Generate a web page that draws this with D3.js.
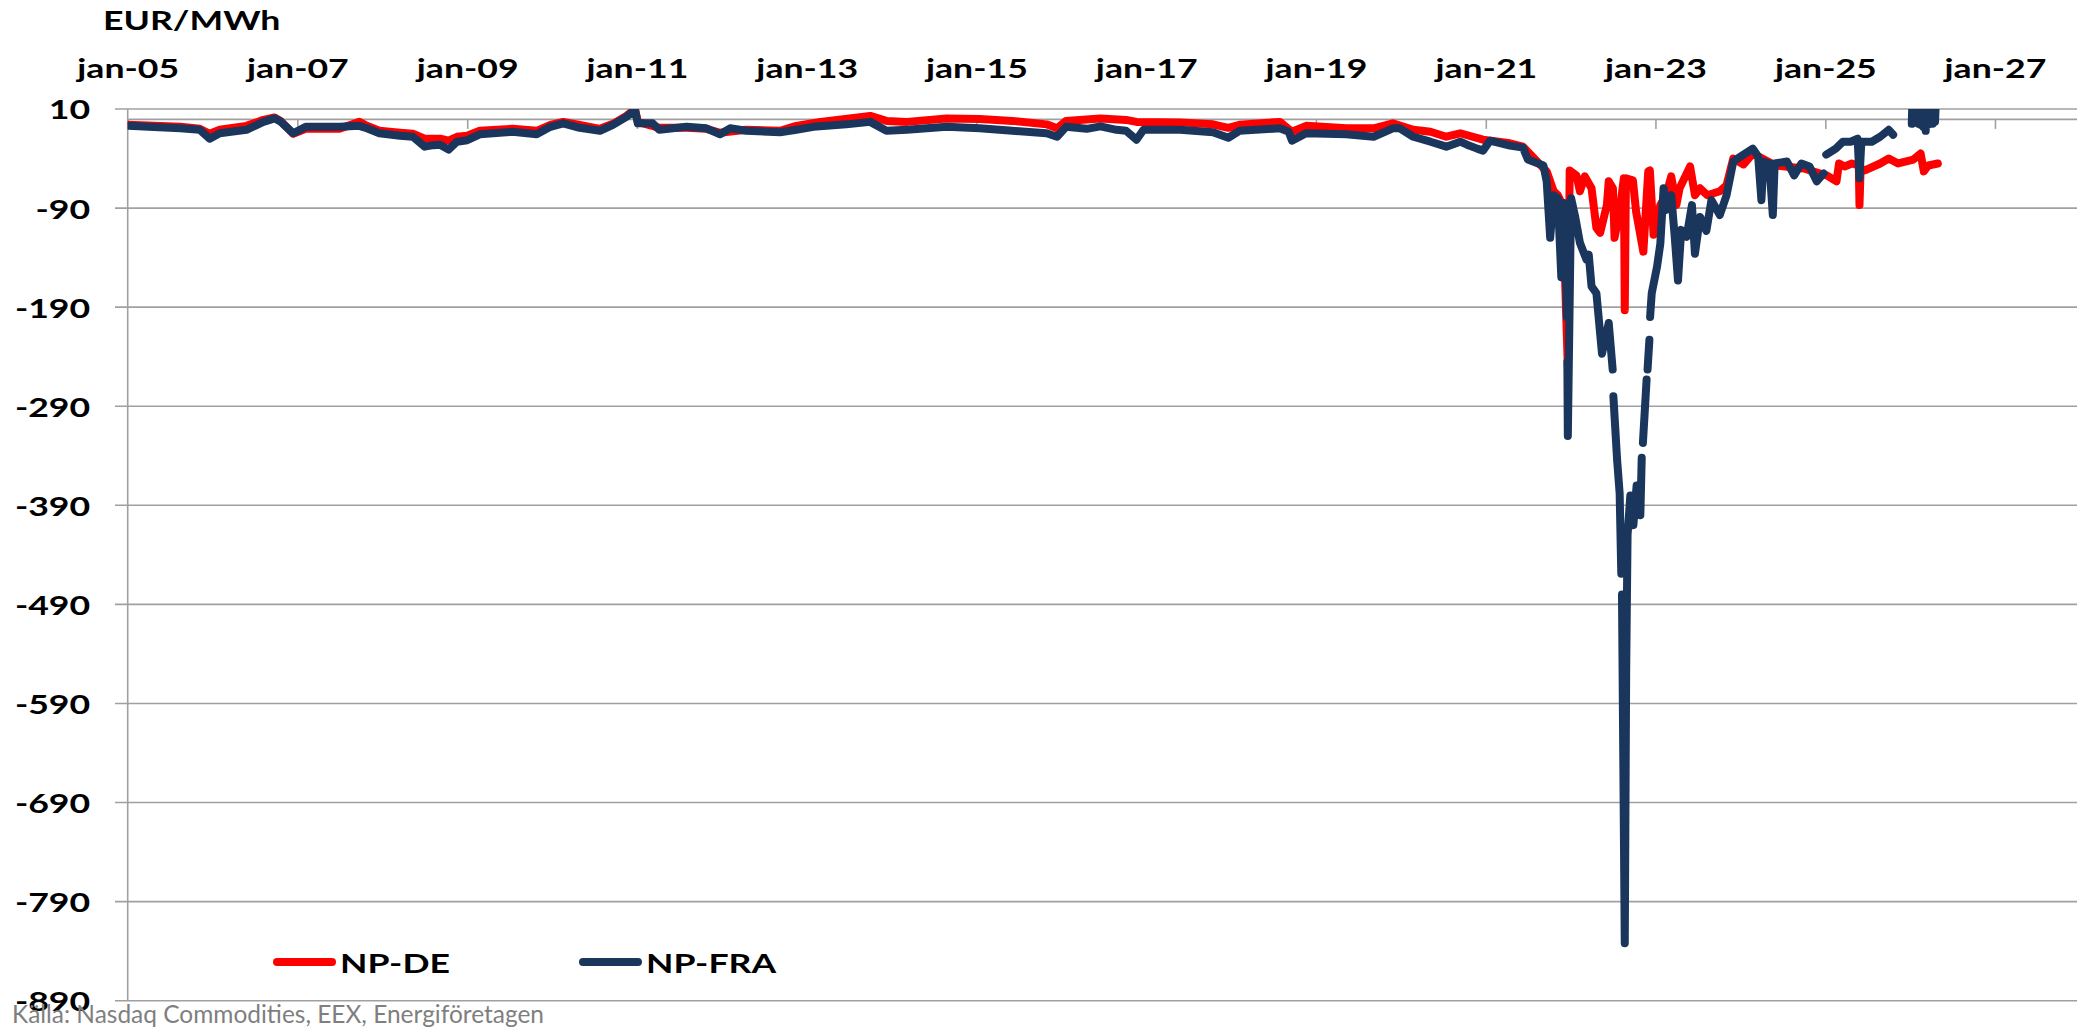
<!DOCTYPE html>
<html>
<head>
<meta charset="utf-8">
<script src="https://cdn.jsdelivr.net/npm/d3@7"></script>
<style>
  body { margin: 0; background: #fff; }
  svg { display: block; }
  text { font-family: Lato, "Open Sans", sans-serif; }
</style>
</head>
<body>
<svg id="chart" width="2077" height="1027"></svg>
<script>
//Tick values
const yTicks = [10, -90, -190, -290, -390, -490, -590, -690, -790, -890];
const xTickYears = [2005, 2007, 2009, 2011, 2013, 2015, 2017, 2019, 2021, 2023, 2025, 2027];
const seriesNames = ["NP-DE", "NP-FRA"];

//NP-DE (red)
const deDates = [
  "2005-01-03","2005-08-15","2005-11-07","2005-12-20",
  "2006-02-01","2006-05-27","2006-08-08","2006-09-25","2006-10-20","2006-12-14",
  "2007-02-06","2007-07-01","2007-09-25","2007-10-27","2007-12-20",
  "2008-03-18","2008-05-12","2008-07-02","2008-09-06","2008-10-13","2008-11-18",
  "2009-01-01","2009-02-24","2009-07-15","2009-10-27","2009-12-25",
  "2010-02-18","2010-04-30","2010-07-26","2010-09-20","2010-11-17","2010-12-24",
  "2011-01-05","2011-04-08","2011-08-03","2011-10-27","2011-12-25",
  "2012-04-15","2012-09-08","2012-11-17",
  "2013-03-01","2013-10-01","2013-12-10",
  "2014-03-08","2014-08-26",
  "2015-01-15","2015-06-05","2015-10-30","2015-12-14",
  "2016-01-22","2016-03-20","2016-06-18","2016-10-06","2016-11-20",
  "2017-05-27","2017-10-15","2017-12-20",
  "2018-02-06","2018-07-30","2018-09-20","2018-11-20",
  "2019-05-12","2019-09-06","2019-11-28",
  "2020-02-24","2020-05-08","2020-07-15","2020-09-13","2020-12-20",
  "2021-04-15","2021-06-10","2021-07-08","2021-09-20","2021-10-20","2021-11-07","2021-11-28","2021-12-20","2021-12-28",
  "2022-01-26","2022-02-10","2022-03-03","2022-04-01","2022-04-22","2022-05-08","2022-06-06","2022-06-14","2022-07-02","2022-07-09","2022-07-31","2022-08-18","2022-08-22","2022-08-27","2022-09-26","2022-10-10","2022-11-10","2022-12-01","2022-12-08","2022-12-24",
  "2023-01-22","2023-02-16","2023-03-10","2023-04-01","2023-04-15","2023-05-30","2023-06-20","2023-07-12","2023-08-12","2023-10-05","2023-11-03","2023-12-02",
  "2024-01-15","2024-02-24","2024-06-01","2024-10-01","2024-12-20",
  "2025-01-07","2025-02-18","2025-03-01","2025-03-25","2025-04-25","2025-05-25","2025-05-28","2025-06-02","2025-06-20","2025-08-25","2025-10-01","2025-11-10",
  "2026-01-15","2026-02-15","2026-03-01","2026-03-20","2026-04-30"
];
const deValues = [
  -6, -8, -10, -15,
  -11, -7, -1, 1.5, -2, -15,
  -10, -10, -3, -7, -12,
  -14, -15, -20, -20, -22, -18,
  -17, -12, -10, -12, -6,
  -3, -6, -10, -5, 3, 10,
  -3, -9, -9, -10, -14,
  -11, -12, -7,
  -3, 3, -2,
  -3, 0.5,
  0, -2, -5.5, -9.5,
  -2, -1, 0.5, -1, -3,
  -3.5, -5.5, -9,
  -6, -3, -13, -7,
  -9.5, -9.5, -4.5,
  -11, -13, -18, -14.5, -21,
  -24.6, -28, -35, -53, -73, -77, -87, -250, -52,
  -57, -73, -58, -70, -110, -115, -87, -63, -70, -120, -94, -60, -193, -60, -62, -94, -134, -53, -52, -117,
  -87, -77, -58, -87, -70, -48, -77, -70, -77, -73, -67, -40,
  -46, -35, -47, -50, -56,
  -57, -63, -45, -48, -45, -47, -87, -50, -52, -45, -40, -45,
  -41, -35, -53, -47, -45
];

//NP-FRA (dark blue), null = break in the line
const fraDates = [
  "2005-01-03","2005-04-01","2005-08-15","2005-11-07","2005-12-20",
  "2006-02-01","2006-05-27","2006-08-08","2006-09-25","2006-10-20","2006-12-14",
  "2007-02-06","2007-07-01","2007-09-25","2007-10-27","2007-12-20",
  "2008-03-18","2008-05-12","2008-07-02","2008-08-08","2008-09-06","2008-10-13","2008-11-18",
  "2009-01-01","2009-02-24","2009-07-15","2009-10-27","2009-12-25",
  "2010-02-18","2010-04-30","2010-07-26","2010-09-20","2010-11-17","2010-12-24",
  "2011-01-05","2011-03-10","2011-04-08","2011-08-03","2011-10-27","2011-12-25",
  "2012-02-06","2012-04-15","2012-09-08","2012-11-17",
  "2013-01-30","2013-06-20","2013-10-01","2013-12-10",
  "2014-03-08","2014-08-26",
  "2015-01-15","2015-06-05","2015-10-30","2015-12-14",
  "2016-01-22","2016-04-20","2016-06-18","2016-08-26","2016-10-06","2016-11-20","2016-12-20",
  "2017-05-27","2017-10-15","2017-12-20",
  "2018-02-06","2018-07-30","2018-09-06","2018-09-20","2018-11-20",
  "2019-05-12","2019-09-06","2019-11-28","2019-12-28",
  "2020-02-24","2020-05-08","2020-07-15","2020-09-13","2020-10-12","2020-11-25","2020-12-20",
  "2021-01-19","2021-04-15","2021-06-10","2021-07-01","2021-09-06","2021-09-20","2021-10-05","2021-10-20","2021-11-07","2021-11-22","2021-12-06","2021-12-16","2021-12-17","2021-12-18","2021-12-20",
  "2022-01-03","2022-01-20","2022-02-10","2022-03-10","2022-03-20","2022-04-01","2022-04-22","2022-05-16","2022-06-14","2022-07-01","2022-07-02","2022-07-04","2022-07-20","2022-07-31","2022-08-07","2022-08-08","2022-08-10","2022-08-22","2022-08-28","2022-09-03","2022-09-15","2022-09-28","2022-10-12","2022-10-28","2022-11-03","2022-11-05","2022-11-08","2022-11-24","2022-11-26","2022-11-28","2022-12-06","2022-12-07","2022-12-09","2022-12-16",
  "2023-01-08","2023-01-22","2023-02-05","2023-02-16","2023-03-10","2023-03-25","2023-04-08","2023-04-22","2023-05-15","2023-06-07","2023-06-20","2023-07-12","2023-08-08","2023-08-30","2023-10-05","2023-11-03","2023-12-02","2023-12-20",
  "2024-01-15","2024-02-24","2024-03-18","2024-04-01","2024-04-10","2024-05-05","2024-05-20","2024-05-28","2024-07-20","2024-08-20","2024-09-20","2024-10-25","2024-11-25","2024-12-25","2024-12-28",
  "2025-01-05","2025-02-15","2025-03-18","2025-04-20","2025-05-20","2025-05-28","2025-06-05","2025-07-20","2025-08-25","2025-10-01","2025-10-20","2025-11-01",
  "2026-01-08","2026-01-13","2026-01-18","2026-01-23","2026-01-28","2026-02-02","2026-02-07","2026-02-12","2026-02-17","2026-02-22","2026-02-27",
  "2026-03-04","2026-03-09","2026-03-14","2026-03-19","2026-03-24","2026-03-29","2026-04-03","2026-04-08","2026-04-13","2026-04-18","2026-04-22"
];
const fraValues = [
  -7, -8, -9.5, -11, -20,
  -14.5, -11, -3, 0.5, -2.5, -14.5,
  -8, -8, -7, -9.5, -14.5,
  -17, -18, -28, -26.5, -26, -31, -23,
  -21.5, -15.5, -13, -15.5, -8,
  -4.5, -9, -12, -6, 2, 9,
  -4.5, -4.5, -11, -8, -9.5, -15.5,
  -9.5, -12, -13.5, -11,
  -8, -5.5, -3, -12,
  -11, -8,
  -9.5, -12, -14.5, -18,
  -8, -10, -7.5, -11, -12, -21, -11,
  -11, -13.5, -19,
  -12, -9.5, -13, -22, -14.5,
  -15.5, -18, -9.5, -9.5,
  -18, -23, -28, -23, -26, -30, -32,
  -22, -27, -29, -41, -47, -63, -120, -77, -80, -160, -85, -200, null, -245, -320,
  -80, -98, -125, -142, -137, -169, -176, -237, -206, -253, null, -280, -344, -378, -459, null, -480, -832, -560, -420, -380, -410, -370, -400, -342, null, -327, -263, null, -253, -223, null, -200, -176,
  -149, -126, -70, -92, -77, -119, -163, -112, -119, -87, -136, -99, -113, -82, -97, -77, -43, -40,
  -36, -30, -38, -82, -43, -45, -97, -45, -43, -57, -45, -48, -63, -55, null,
  -36, -30, -23, -23, -20, -60, -23, -23, -18, -11, -16, null,
  -5, 40, -3, 40, -4, 40, -5, 40, -6, 40, -8,
  40, -12, 40, -6, 40, -4, 40, -5, 40, -3, 20
];

//Style settings
const textScaleX = 1.32;
const gridColor = "#a0a0a0";
const colors = ["#ff0000", "#1b365d"];

const svg = d3.select("#chart");
const parseDate = d3.timeParse("%Y-%m-%d");

//Scales
const x = d3.scaleTime()
    .domain([new Date(2005, 0, 1), new Date(2027, 11, 20)])
    .range([127.7, 2077]);
const y = d3.scaleLinear()
    .domain([-890, 10])
    .range([1000.7, 109]);

const xTickDates = xTickYears.map(yr => new Date(yr, 0, 1));

//Horizontal gridlines
svg.append("g")
    .selectAll("line")
    .data(yTicks)
    .enter().append("line")
    .attr("x1", 115)
    .attr("x2", 2077)
    .attr("y1", d => y(d))
    .attr("y2", d => y(d))
    .attr("stroke", gridColor)
    .attr("stroke-width", 1.6);

//Vertical value axis line
svg.append("line")
    .attr("x1", x(xTickDates[0])).attr("x2", x(xTickDates[0]))
    .attr("y1", y(10)).attr("y2", y(-890))
    .attr("stroke", gridColor)
    .attr("stroke-width", 1.6);

//Category axis drawn at zero with ticks hanging down
let zeroAxis = svg.append("g")
    .attr("transform", "translate(0," + y(0) + ")")
    .call(d3.axisBottom(x).tickValues(xTickDates).tickSize(10).tickSizeOuter(0).tickFormat(""));
zeroAxis.selectAll("path, line")
    .attr("stroke", gridColor)
    .attr("stroke-width", 1.6);

//Y labels (plain hyphen as in the original)
let yAxis = svg.append("g")
    .attr("transform", "translate(" + x(xTickDates[0]) + ",0)")
    .call(d3.axisLeft(y).tickValues(yTicks).tickSize(0).tickFormat(d => String(d)));
yAxis.select(".domain").remove();
yAxis.selectAll("text")
    .attr("x", 0)
    .attr("dy", "0.37em")
    .attr("transform", "translate(-37.5,0) scale(" + textScaleX + ",1)")
    .attr("fill", "#000")
    .attr("font-size", 27)
    .attr("font-weight", "bold")
    .attr("font-family", "Lato, 'Open Sans', sans-serif");

//X labels along the top
let xAxis = svg.append("g")
    .attr("transform", "translate(0,78)")
    .call(d3.axisTop(x).tickValues(xTickDates).tickSize(0).tickFormat(d3.timeFormat("jan-%y")));
xAxis.select(".domain").remove();
xAxis.selectAll("text")
    .attr("y", 0)
    .attr("dy", 0)
    .attr("transform", "scale(" + textScaleX + ",1)")
    .attr("fill", "#000")
    .attr("font-size", 27)
    .attr("font-weight", "bold")
    .attr("font-family", "Lato, 'Open Sans', sans-serif");

//Unit label
svg.append("text")
    .attr("transform", "translate(103,30) scale(" + textScaleX + ",1)")
    .attr("font-size", 27)
    .attr("font-weight", "bold")
    .text("EUR/MWh");

//Clip so values above 10 are cut at the top gridline
svg.append("clipPath").attr("id", "plotClip")
    .append("rect")
    .attr("x", x(xTickDates[0]))
    .attr("y", y(10))
    .attr("width", 2077 - x(xTickDates[0]))
    .attr("height", 1027 - y(10));

const series = [
    deDates.map((d, i) => ({ date: parseDate(d), v: deValues[i] })),
    fraDates.map((d, i) => ({ date: parseDate(d), v: fraValues[i] }))
];

const line = d3.line()
    .defined(d => d.v !== null)
    .x(d => x(d.date))
    .y(d => y(d.v));

svg.append("g")
    .attr("clip-path", "url(#plotClip)")
    .selectAll("path")
    .data(series)
    .enter().append("path")
    .attr("d", line)
    .attr("fill", "none")
    .attr("stroke", (d, i) => colors[i])
    .attr("stroke-width", 8)
    .attr("stroke-linejoin", "round")
    .attr("stroke-linecap", "round");

//Legend
const legendX = [277, 583];
let legend = svg.append("g")
    .selectAll("g")
    .data(seriesNames)
    .enter().append("g")
    .attr("transform", (d, i) => "translate(" + legendX[i] + ",962)");
legend.append("line")
    .attr("x1", 0).attr("x2", 55)
    .attr("stroke", (d, i) => colors[i])
    .attr("stroke-width", 8)
    .attr("stroke-linecap", "round");
legend.append("text")
    .attr("transform", "translate(63,10.5) scale(" + textScaleX + ",1)")
    .attr("font-size", 27)
    .attr("font-weight", "bold")
    .text(d => d);

//Source
svg.append("text")
    .attr("x", 12)
    .attr("y", 1023)
    .attr("font-size", 25)
    .attr("fill", "#7f7f7f")
    .attr("textLength", 532)
    .attr("lengthAdjust", "spacingAndGlyphs")
    .text("Källa: Nasdaq Commodities, EEX, Energiföretagen");
</script>
</body>
</html>
